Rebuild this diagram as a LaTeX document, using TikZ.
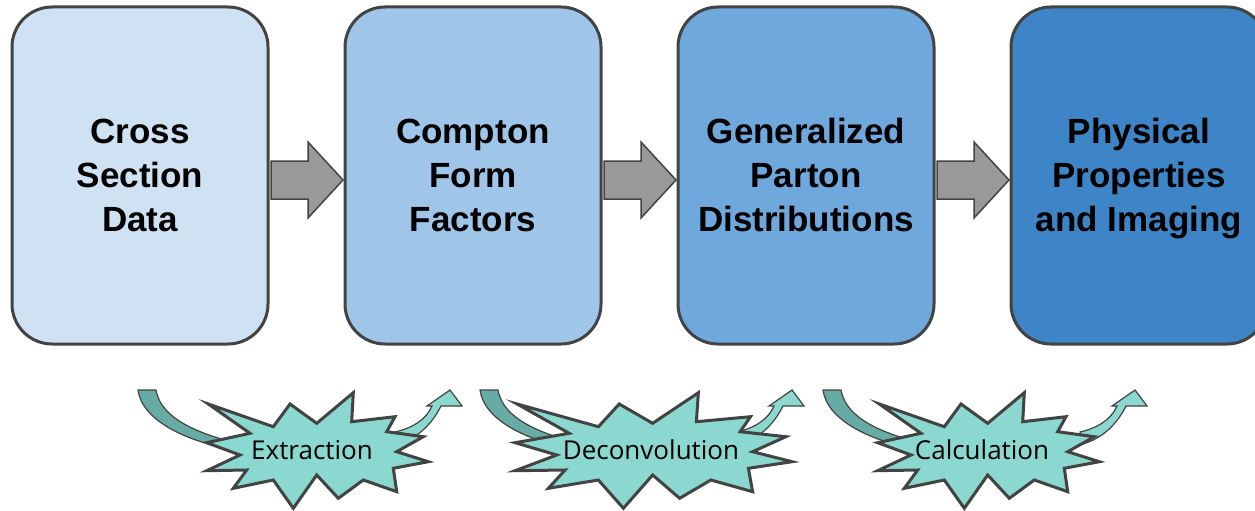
\documentclass[tikz,border=0pt]{standalone}
\usepackage{fontspec}
\setmainfont{Liberation Sans}
\newfontfamily\burstfont{Open Sans}
\usetikzlibrary{calc}
\definecolor{edge}{HTML}{434343}
\definecolor{boxA}{HTML}{CFE2F3}
\definecolor{boxB}{HTML}{9FC5E8}
\definecolor{boxC}{HTML}{6FA8DC}
\definecolor{boxD}{HTML}{3D85C6}
\definecolor{flowgray}{HTML}{999999}
\definecolor{burstfill}{HTML}{8AD8D0}
\definecolor{taildark}{HTML}{66ACA4}
\tikzset{
  stage/.style={draw=edge, line width=3pt, rounded corners=40pt, outer sep=0pt,
    minimum width=256pt, minimum height=337pt},
  stagetext/.style={align=center, inner sep=0pt,
    font=\fontsize{35}{44}\selectfont\bfseries},
  flowarrow/.style={draw=edge, fill=flowgray, line width=1.5pt, line join=miter},
  burst/.style={draw=edge, fill=burstfill, line width=3pt, line join=miter},
  tail/.style={draw=edge, fill=taildark, line width=1.2pt},
  rise/.style={draw=edge, fill=burstfill, line width=1.2pt, line join=miter},
  burstlabel/.style={font=\burstfont\fontsize{26}{30}\selectfont, inner sep=0pt}
}
% starburst outline around the local origin
\newcommand\burstoutline{%
  (-108.7,-46) -- (-43.7,-23.3) -- (-27,-46) -- (-0.3,-26.7) -- (36.3,-57.3) --
  (34.7,-28.3) -- (78,-33.3) -- (69.7,-18.3) -- (106.3,-13.3) -- (79.7,1.7) --
  (111.3,11.7) -- (76.3,18.3) -- (79.7,41.7) -- (46.3,30) -- (21.3,48.3) --
  (-0.3,25) -- (-23.7,58.3) -- (-43.7,30) -- (-83.7,38.3) -- (-70.3,20) --
  (-110.3,20.7) -- (-77,5) -- (-110.3,-7.3) -- (-67,-16.7) -- cycle}
% curved arrow passing behind a starburst
\newcommand\swoop{%
  \draw[tail] (138,390) -- (156,390) .. controls (160,412) and (182,430) .. (240,444)
    -- (240,451) .. controls (185,442) and (142,420) .. (138,390) -- cycle;
  \draw[rise] (395,432) .. controls (412,428) and (426,420) .. (432,406)
    -- (427,406) -- (450,390) -- (462,406) -- (441,406)
    .. controls (432,424) and (418,438) .. (398,444) -- cycle;}
\begin{document}
\begin{tikzpicture}[x=1pt,y=-1pt]
\useasboundingbox (0,0) rectangle (1255,511);
\clip (0,0) rectangle (1255,511);

% pipeline stages
\node[stage, fill=boxA] (b1) at (140,175.5) {};
\node[stage, fill=boxB] (b2) at (473,175.5) {};
\node[stage, fill=boxC] (b3) at (806,175.5) {};
\node[stage, fill=boxD] (b4) at (1139,175.5) {};

\node[stagetext] (t1) at ($(b1.center)+(0,3.3)$) {\strut Cross\\Section\\Data\strut};
\node[stagetext] (t2) at ($(b2.center)+(0,3.3)$) {\strut Compton\\Form\\Factors\strut};
\node[stagetext] (t3) at ($(b3.center)+(0,3.3)$) {\strut Generalized\\Parton\\Distributions\strut};
\node[stagetext] (t4) at ($(b4.center)+(0,3.3)$) {\strut Physical\\Properties\\and Imaging\strut};

% block arrows between stages
\foreach \a/\b in {b1/b2, b2/b3, b3/b4} {
  \draw[flowarrow] ($(\a.east)+(3,-14.5)$) -- ++(37,0) -- ++(0,-19)
    -- ($(\b.west)+(-2,4.5)$) -- ($(\b.west)+(-37,42.5)$) -- ++(0,-19)
    -- ($(\a.east)+(3,23.5)$) -- cycle;
}

% method bursts with their curved arrows
\coordinate (s1) at (317,450);
\coordinate (s2) at (653,450);
\coordinate (s3) at (988,450);

\swoop
\begin{scope}[xshift=342pt]\swoop\end{scope}
\begin{scope}[xshift=685pt]\swoop\end{scope}

\begin{scope}[shift={(s1)}]\draw[burst] \burstoutline;\end{scope}
\begin{scope}[shift={(s2)}, xscale=1.25]\draw[burst] \burstoutline;\end{scope}
\begin{scope}[shift={(s3)}]\draw[burst] \burstoutline;\end{scope}

\node[burstlabel] (m1) at (312,450) {Extraction};
\node[burstlabel] (m2) at (651,450) {Deconvolution};
\node[burstlabel] (m3) at (982,450) {Calculation};
\end{tikzpicture}
\end{document}
